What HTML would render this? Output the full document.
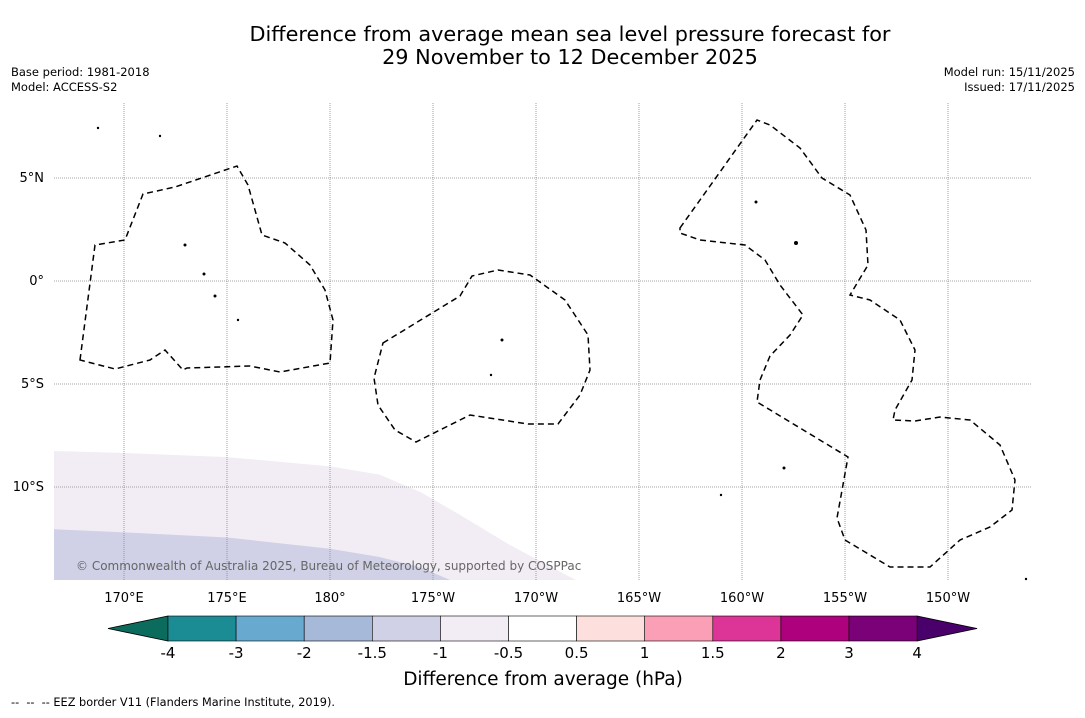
<!DOCTYPE html>
<html><head><meta charset="utf-8"><style>
body{margin:0;background:#fff;font-family:"Liberation Sans","DejaVu Sans",sans-serif}
svg text{font-family:"DejaVu Sans","Liberation Sans",sans-serif}
</style></head><body>
<svg id="chart" width="1085" height="713" viewBox="0 0 1085 713" xmlns="http://www.w3.org/2000/svg">
<rect width="1085" height="713" fill="#fff"/>
<text x="570" y="41" font-size="20.8" text-anchor="middle">Difference from average mean sea level pressure forecast for</text>
<text x="570" y="64" font-size="20.8" text-anchor="middle">29 November to 12 December 2025</text>
<text x="11" y="76" font-size="11.5">Base period: 1981-2018</text>
<text x="11" y="91" font-size="11.5">Model: ACCESS-S2</text>
<text x="1075" y="76" font-size="11.5" text-anchor="end">Model run: 15/11/2025</text>
<text x="1075" y="91" font-size="11.5" text-anchor="end">Issued: 17/11/2025</text>
<defs><clipPath id="mapclip"><rect x="54" y="103" width="977" height="477"/></clipPath></defs>
<g id="map" clip-path="url(#mapclip)"></g>
<g id="eez" fill="none" stroke="#000" stroke-width="1.5" stroke-dasharray="6,4">
<path d="M80,360 L95,245 L125,240 L143,194 L175,187 L237,166 L248,185 L262,235 L285,243 L310,265 L325,290 L333,320 L330,363 L280,372 L250,366 L187,368 L183,370 L165,350 L150,360 L115,369 Z"/>
<path d="M383,343 L460,296 L472,276 L498,270 L530,275 L565,300 L588,335 L590,370 L580,395 L558,424 L528,424 L470,415 L416,442 L395,430 L378,405 L374,378 Z"/>
<path d="M680,228 L700,200 L757,120 L770,125 L800,148 L822,178 L850,195 L866,230 L868,265 L850,295 L870,300 L900,320 L915,350 L912,380 L895,410 L893,420 L915,421 L940,417 L970,420 L1000,445 L1015,480 L1012,510 L990,527 L960,540 L930,567 L890,567 L845,540 L837,518 L848,457 L757,402 L760,380 L770,356 L790,335 L803,315 L780,285 L765,260 L745,245 L700,240 L680,233 Z"/>
</g>
<g fill="#000">
<circle cx="185" cy="245" r="1.5"/><circle cx="204" cy="274" r="1.5"/><circle cx="215" cy="296" r="1.5"/><circle cx="238" cy="320" r="1.2"/><circle cx="502" cy="340" r="1.5"/><circle cx="491" cy="375" r="1.2"/><circle cx="756" cy="202" r="1.5"/><circle cx="796" cy="243" r="2"/><circle cx="784" cy="468" r="1.5"/><circle cx="721" cy="495" r="1.2"/><circle cx="1026" cy="579" r="1.2"/><circle cx="160" cy="136" r="1.2"/><circle cx="98" cy="128" r="1.2"/>
</g>
<text x="76" y="570" font-size="12" fill="#666">© Commonwealth of Australia 2025, Bureau of Meteorology, supported by COSPPac</text>
<g id="cbar"></g>
<text x="543" y="685" font-size="18.5" text-anchor="middle">Difference from average (hPa)</text>
<text x="11" y="706" font-size="11.3" style="white-space:pre" xml:space="preserve">--  --  -- EEZ border V11 (Flanders Marine Institute, 2019).</text>
</svg>
<script>
const lonTicks=[170,175,180,185,190,195,200,205,210];
const lonLabels=["170°E","175°E","180°","175°W","170°W","165°W","160°W","155°W","150°W"];
const latTicks=[5,0,-5,-10];
const latLabels=["5°N","0°","5°S","10°S"];
const band1Lon=[166.6,170,175,180,182.4,184.4,186.3,188.7,191.9,193];
const band1Lat=[-8.25,-8.35,-8.55,-9.0,-9.4,-10.25,-11.35,-12.8,-14.5,-15];
const band2Lon=[166.6,170,175,180,182.4,184.4,185.8,186.5];
const band2Lat=[-12.05,-12.2,-12.45,-13.0,-13.4,-13.9,-14.5,-15];
const levels=["-4","-3","-2","-1.5","-1","-0.5","0.5","1","1.5","2","3","4"];
const colors=["#1c8c94","#67a9cf","#a6b9d8","#d0d1e6","#f2ecf4","#ffffff","#fde0dd","#fa9fb5","#dd3497","#ae017e","#7a0177"];
const extLow="#0b6b5c", extHigh="#49006a";
const NS="http://www.w3.org/2000/svg";
const X=lon=>124+(lon-170)*20.6, Y=lat=>281-lat*20.6;
function mk(t,a,p){const e=document.createElementNS(NS,t);for(const k in a)e.setAttribute(k,a[k]);p.appendChild(e);return e;}
const map=document.getElementById('map');
function band(lons,lats,col,name){let d="M"+X(lons[0])+","+Y(lats[0]);for(let i=1;i<lons.length;i++)d+=" L"+X(lons[i])+","+Y(lats[i]);d+=" L54,600 L54,"+Y(lats[0])+" Z";const p=mk('path',{d:d,fill:col},map);

}
band(band1Lon,band1Lat,"#f2ecf4","anomaly-band-minus-0-5");
band(band2Lon,band2Lat,"#d0d1e6","anomaly-band-minus-1");
lonTicks.forEach((l,i)=>{const g=mk('line',{x1:X(l),x2:X(l),y1:103,y2:580,stroke:"#888","stroke-width":0.8,"stroke-dasharray":"1,1"},map);


const t=mk('text',{x:X(l),y:602,"font-size":13,"text-anchor":"middle"},document.getElementById('chart'));t.textContent=lonLabels[i];

});
latTicks.forEach((l,i)=>{const g=mk('line',{x1:54,x2:1031,y1:Y(l),y2:Y(l),stroke:"#888","stroke-width":0.8,"stroke-dasharray":"1,1"},map);


const t=mk('text',{x:44,y:Y(l)+4,"font-size":13,"text-anchor":"end"},document.getElementById('chart'));t.textContent=latLabels[i];

});
const cb=document.getElementById('cbar');const x0=168,w=68.1,y0=616,h=25;
const lo=mk('polygon',{points:`108,${y0+h/2} ${x0},${y0} ${x0},${y0+h}`,fill:extLow,stroke:"#000","stroke-width":0.8},cb);


const xe=x0+w*colors.length;
const hi=mk('polygon',{points:`${xe},${y0} ${xe+60},${y0+h/2} ${xe},${y0+h}`,fill:extHigh,stroke:"#000","stroke-width":0.8},cb);


colors.forEach((c,i)=>{const r=mk('rect',{x:x0+i*w,y:y0,width:w,height:h,fill:c,stroke:"#000","stroke-width":0.6},cb);

});
levels.forEach((l,i)=>{const t=mk('text',{x:x0+i*w,y:658,"font-size":15,"text-anchor":"middle"},cb);t.textContent=l;

});
</script>
</body></html>
